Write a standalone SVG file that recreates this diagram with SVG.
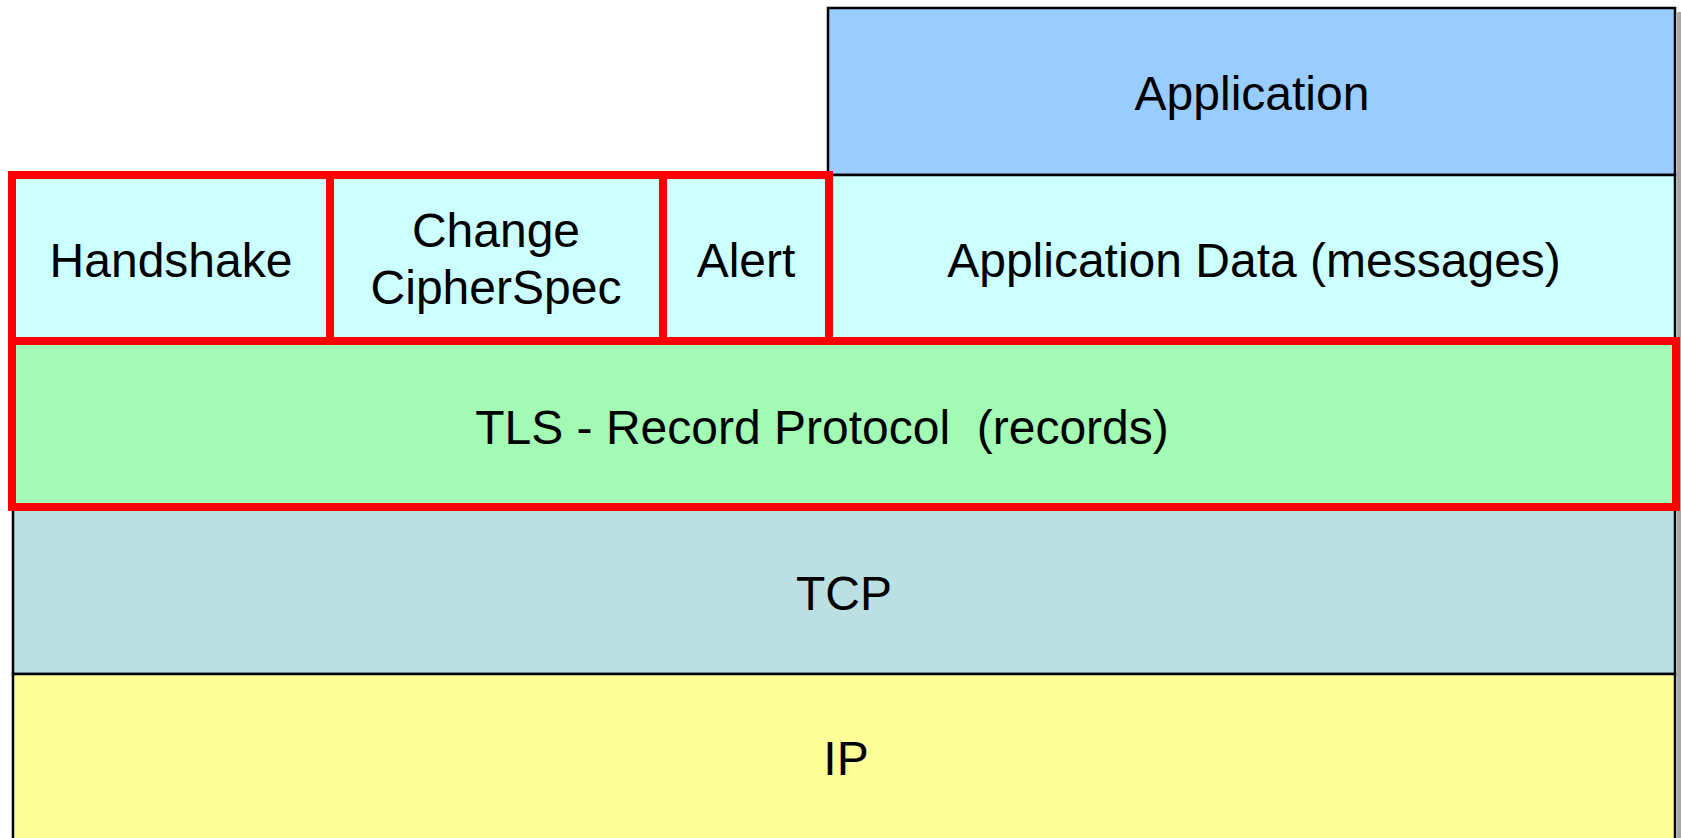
<svg xmlns="http://www.w3.org/2000/svg" width="1681" height="838" viewBox="0 0 1681 838">
  <style>
    .lbl { font-family: "Liberation Sans", Arial, sans-serif; font-size: 48px; fill: #000; text-anchor: middle; white-space: pre; }
    .box { stroke: #000; stroke-width: 2.5; }
    .sel { fill: none; stroke: #FF0000; stroke-width: 8; }
  </style>
  <rect width="1681" height="838" fill="#FFFFFF"/>

  <!-- soft drop shadow along the right side of the stack -->
  <rect x="1677" y="12" width="4" height="826" fill="#A8A8A8"/>

  <g id="application">
    <rect class="box" x="828" y="8" width="847" height="167" fill="#99CCFF"/>
    <text class="lbl" x="1252" y="110">Application</text>
  </g>

  <g id="application-data">
    <rect class="box" x="828" y="175" width="847" height="166" fill="#CCFFFF"/>
    <text class="lbl" x="1254" y="277">Application Data (messages)</text>
  </g>

  <g id="handshake">
    <rect x="12" y="175" width="318" height="166" fill="#CCFFFF"/>
    <text class="lbl" x="171" y="277">Handshake</text>
  </g>

  <g id="change-cipher-spec">
    <rect x="330" y="175" width="333" height="166" fill="#CCFFFF"/>
    <text class="lbl" x="496" y="247">Change</text>
    <text class="lbl" x="496" y="304">CipherSpec</text>
  </g>

  <g id="alert">
    <rect x="663" y="175" width="166" height="166" fill="#CCFFFF"/>
    <text class="lbl" x="746" y="277">Alert</text>
  </g>

  <g id="tls-record">
    <rect x="12" y="341" width="1664" height="166" fill="#A2FAB4"/>
    <text class="lbl" x="822" y="444">TLS - Record Protocol  (records)</text>
  </g>

  <g id="tcp">
    <rect class="box" x="13" y="508" width="1662" height="166" fill="#BBE0E3"/>
    <text class="lbl" x="844" y="610">TCP</text>
  </g>

  <g id="ip">
    <rect class="box" x="13" y="674" width="1662" height="180" fill="#FFFF99"/>
    <text class="lbl" x="846" y="775">IP</text>
  </g>

  <!-- red outlines marking the TLS sub-protocols and the record layer -->
  <g id="tls-outlines">
    <rect class="sel" x="12" y="175" width="318" height="166"/>
    <rect class="sel" x="330" y="175" width="333" height="166"/>
    <rect class="sel" x="663" y="175" width="166" height="166"/>
    <rect class="sel" x="12" y="341" width="1664" height="166"/>
  </g>
</svg>
